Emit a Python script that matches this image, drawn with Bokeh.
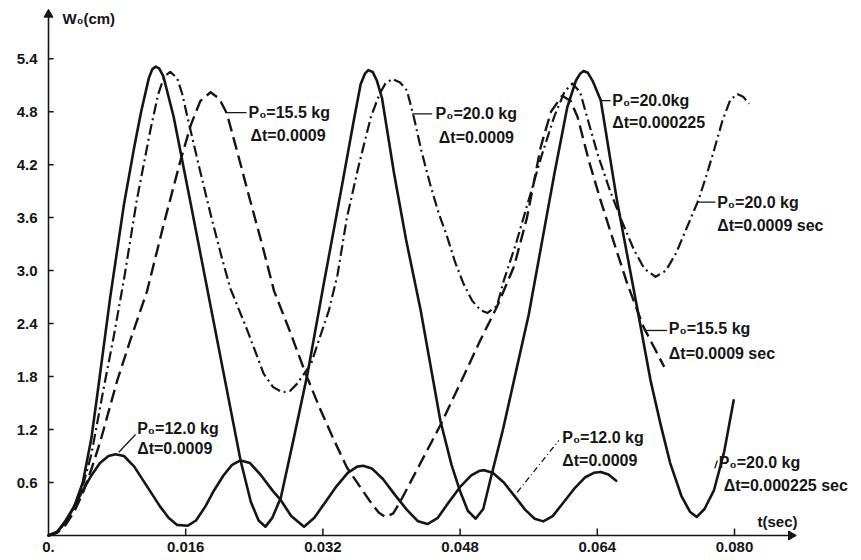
import numpy as np
from bokeh.plotting import figure
from bokeh.models import Label, FixedTicker, Range1d
from bokeh.embed import file_html
from bokeh.resources import INLINE

# ---------------- data (t in ms, W0 in cm) ----------------
# P0 = 12.0 kg, dt = 0.0009 (solid, small oscillation)
a_t_ms = [0, 1, 2, 3, 4, 5, 6, 7, 7.8, 8.8, 10, 11, 12, 13, 14, 15, 16.2, 17.2, 18.3, 19.3,
          20.4, 21.4, 22.4, 23.5, 24.8, 26.2, 27.1, 28.3, 29.8, 31, 32.3, 33.6, 34.9, 36, 36.7,
          37.7, 39, 40.4, 41.8, 43.1, 44.2, 45.4, 46.7, 48, 49.3, 50.2, 50.8, 51.8, 53.1, 54.4,
          55.6, 56.7, 57.7, 58.8, 60.1, 61.4, 62.6, 63.6, 64.4, 65.3, 66.2]
a_w = [0, 0.04, 0.17, 0.33, 0.51, 0.68, 0.82, 0.9, 0.92, 0.9, 0.78, 0.63, 0.48, 0.33, 0.2, 0.12,
       0.11, 0.17, 0.33, 0.51, 0.68, 0.8, 0.85, 0.82, 0.68, 0.5, 0.4, 0.22, 0.10, 0.2, 0.38, 0.56,
       0.71, 0.78, 0.79, 0.76, 0.64, 0.46, 0.29, 0.16, 0.13, 0.2, 0.38, 0.55, 0.68, 0.73, 0.74,
       0.71, 0.6, 0.44, 0.29, 0.19, 0.16, 0.22, 0.38, 0.54, 0.66, 0.71, 0.72, 0.69, 0.62]

# P0 = 20.0 kg, dt = 0.000225 (solid, large)
b_t_ms = [0, 1, 2, 3, 4, 5, 5.7, 7.2, 8.8, 10.0, 10.8, 11.7, 12.1, 12.5, 12.9, 13.4, 14.6, 16.5,
          18.5, 20.4, 22.4, 23.6, 24.5, 25.3, 26.1, 27.1, 28.6, 30.2, 32.1, 34.2, 35.6, 36.4, 36.9,
          37.3, 37.8, 38.3, 38.9, 40.3, 41.7, 43.4, 45.7, 47.0, 48.0, 48.9, 49.8, 50.7, 51.5, 53.0,
          54.5, 56.0, 57.5, 59.0, 60.5, 61.5, 62.0, 62.4, 62.9, 63.5, 64.4, 66.3, 68.7, 70.2, 71.4,
          72.5, 73.8, 74.8, 75.6, 76.5, 77.6, 78.8, 79.9]
b_w = [0, 0.04, 0.15, 0.33, 0.6, 1.1, 1.6, 2.7, 3.75, 4.4, 4.8, 5.18, 5.28, 5.31, 5.29, 5.2,
       4.74, 3.8, 2.8, 1.85, 0.85, 0.38, 0.17, 0.10, 0.2, 0.43, 1.1, 1.83, 2.85, 3.95, 4.7, 5.11,
       5.23, 5.27, 5.25, 5.15, 4.95, 4.1, 3.35, 2.55, 1.3, 0.8, 0.5, 0.28, 0.19, 0.3, 0.62, 1.2,
       1.85, 2.5, 3.3, 4.1, 4.85, 5.15, 5.23, 5.26, 5.24, 5.14, 4.93, 3.79, 2.55, 1.76, 1.25, 0.82,
       0.45, 0.27, 0.21, 0.3, 0.51, 0.95, 1.53]

# P0 = 20.0 kg, dt = 0.0009 (dash-dot)
c_t_ms = [0, 1, 2, 3, 4, 5, 6.4, 7.6, 8.8, 10.3, 11.9, 12.8, 13.5, 14.2, 15.0, 15.6, 16.2, 17.5,
          19.0, 20.2, 21.2, 23.2, 25.1, 26.2, 27.3, 28.2, 29.0, 30.6, 32.7, 33.7, 34.8, 36.2, 37.6,
          38.6, 39.3, 40.1, 41.0, 41.8, 42.6, 43.5, 44.5, 45.5, 46.5, 47.4, 48.4, 49.4, 50.4, 51.2,
          52.3, 53.1, 54.5, 56.0, 57.5, 59.0, 60.2, 61.1, 62.0, 62.8, 64.1, 65.5, 66.9, 68.3, 69.5,
          70.8, 72.0, 73.2, 74.5, 75.8, 76.8, 77.6, 78.6, 79.5, 80.3, 81.0, 81.7]
c_w = [0, 0.04, 0.15, 0.32, 0.56, 0.92, 1.65, 2.25, 2.9, 3.8, 4.6, 5.0, 5.2, 5.25, 5.18, 5.0,
       4.74, 4.2, 3.6, 3.15, 2.8, 2.32, 1.83, 1.68, 1.62, 1.64, 1.72, 1.94, 2.55, 2.95, 3.6, 4.2,
       4.74, 5.0, 5.12, 5.17, 5.13, 5.04, 4.74, 4.35, 3.98, 3.65, 3.38, 3.1, 2.85, 2.66, 2.55, 2.52,
       2.6, 2.89, 3.3, 3.8, 4.3, 4.75, 5.03, 5.12, 5.02, 4.74, 4.3, 3.9, 3.55, 3.23, 3.02, 2.93, 3.0,
       3.2, 3.5, 3.8, 4.1, 4.36, 4.7, 4.93, 5.0, 4.97, 4.89]

# P0 = 15.5 kg, dt = 0.0009 (dashed)
d_t_ms = [0, 1, 2, 3, 4, 5, 6, 7, 8, 9.5, 11.5, 13.5, 15.4, 16.6, 17.7, 18.9, 19.9, 20.8, 22.0,
          23.5, 24.9, 26.3, 28.2, 30.0, 31.6, 33.2, 34.8, 36.2, 37.4, 38.5, 39.3, 40.2, 41.0, 43.0,
          45.7, 48.2, 50.3, 52.3, 54.3, 55.8, 57.4, 58.6, 59.9, 60.9, 61.7, 63.0, 64.4, 66.0, 67.5,
          69.4, 71.8]
d_w = [0, 0.03, 0.12, 0.27, 0.48, 0.75, 1.05, 1.4, 1.75, 2.2, 2.77, 3.55, 4.25, 4.65, 4.92, 5.02,
       4.95, 4.78, 4.35, 3.8, 3.3, 2.77, 2.3, 1.83, 1.45, 1.1, 0.77, 0.57, 0.4, 0.26, 0.21, 0.25,
       0.38, 0.75, 1.25, 1.76, 2.2, 2.59, 3.05, 3.6, 4.4, 4.8, 4.98, 4.92, 4.74, 4.25, 3.79, 3.3,
       2.85, 2.36, 1.91]

x_ticks = [0, 0.016, 0.032, 0.048, 0.064, 0.080]
x_tick_labels = ["0.", "0.016", "0.032", "0.048", "0.064", "0.080"]
y_ticks = [0.6, 1.2, 1.8, 2.4, 3.0, 3.6, 4.2, 4.8, 5.4]
y_tick_labels = ["0.6", "1.2", "1.8", "2.4", "3.0", "3.6", "4.2", "4.8", "5.4"]

# annotation texts: (text, t [s], W [cm])
annotations = [
    ("P\u2080=15.5 kg", 0.02332, 4.794), ("\u0394t=0.0009", 0.02356, 4.53),
    ("P\u2080=20.0 kg", 0.04513, 4.776), ("\u0394t=0.0009", 0.04552, 4.511),
    ("P\u2080=20.0kg", 0.06574, 4.926), ("\u0394t=0.000225", 0.06574, 4.681),
    ("P\u2080=20.0 kg", 0.07798, 3.775), ("\u0394t=0.0009 sec", 0.07798, 3.511),
    ("P\u2080=15.5 kg", 0.07234, 2.341), ("\u0394t=0.0009 sec", 0.07234, 2.058),
    ("P\u2080=12.0 kg", 0.01034, 1.208), ("\u0394t=0.0009", 0.01034, 0.982),
    ("P\u2080=12.0 kg", 0.05991, 1.113), ("\u0394t=0.0009", 0.05991, 0.849),
    ("P\u2080=20.0 kg", 0.07817, 0.830), ("\u0394t=0.000225 sec", 0.07875, 0.566),
]
# leader lines: (t0, w0, t1, w1, dash)
leaders = [
    (0.02064, 4.79, 0.02309, 4.79, "solid"),
    (0.04241, 4.776, 0.04475, 4.776, "solid"),
    (0.06437, 4.926, 0.06554, 4.926, "solid"),
    (0.07584, 3.775, 0.07778, 3.775, "solid"),
    (0.06942, 2.322, 0.07215, 2.322, "solid"),
    (0.00820, 0.943, 0.01015, 1.144, "solid"),
    (0.05466, 0.490, 0.05951, 1.076, "6 3 1 3"),
    (0.07770, 0.760, 0.07800, 0.850, "solid"),
]

# axis extents (arrow tips) and tick-mark lengths
x_axis_end = 0.0866
y_axis_end = 5.90
x_tick_len = 0.08      # in W units
y_tick_len = 0.0006    # in t units

FONT = "Liberation Sans"
INK = "#151515"

p = figure(width=861, height=560, output_backend="svg", toolbar_location=None,
           x_range=Range1d(-0.0007, 0.09481), y_range=Range1d(-0.068, 6.059),
           min_border_left=42, min_border_right=0, min_border_top=0, min_border_bottom=19)
p.outline_line_color = None
p.grid.visible = False
p.background_fill_color = "white"
p.border_fill_color = "white"

for ax, ticks, labels in ((p.xaxis[0], x_ticks, x_tick_labels), (p.yaxis[0], y_ticks, y_tick_labels)):
    ax.ticker = FixedTicker(ticks=ticks)
    ax.major_label_overrides = dict(zip(ticks, labels))
    ax.axis_line_color = None
    ax.major_tick_line_color = None
    ax.minor_tick_line_color = None
    ax.major_tick_in = 0
    ax.major_tick_out = 0
    ax.major_label_text_font = FONT
    ax.major_label_text_font_style = "bold"
    ax.major_label_text_font_size = "15px"
    ax.major_label_text_color = INK
p.xaxis.major_label_standoff = 0
p.yaxis.major_label_standoff = 5

# axis lines, arrow heads and tick marks
p.line([0, x_axis_end], [0, 0], line_color=INK, line_width=1.6)
p.line([0, 0], [0, y_axis_end], line_color=INK, line_width=1.6)
p.scatter([x_axis_end], [0], marker="triangle", angle=-np.pi / 2, size=9,
          fill_color=INK, line_color=INK)
p.scatter([0], [y_axis_end], marker="triangle", size=9, fill_color=INK, line_color=INK)
xt = np.array(x_ticks[1:])
p.segment(x0=xt, y0=np.zeros_like(xt), x1=xt, y1=np.full_like(xt, x_tick_len),
          line_color=INK, line_width=1.5)
yt = np.array(y_ticks)
p.segment(x0=np.zeros_like(yt), y0=yt, x1=np.full_like(yt, y_tick_len), y1=yt,
          line_color=INK, line_width=1.5)

def sec(ms):
    return np.array(ms) / 1000.0

p.line(sec(a_t_ms), a_w, line_color=INK, line_width=2.6, line_join="round", line_cap="round")
p.line(sec(b_t_ms), b_w, line_color=INK, line_width=2.6, line_join="round", line_cap="round")
p.line(sec(c_t_ms), c_w, line_color=INK, line_width=2.2, line_join="round", line_dash="11 4 2 4")
p.line(sec(d_t_ms), d_w, line_color=INK, line_width=2.4, line_join="round", line_dash="13 6")

for t0, w0, t1, w1, dash in leaders:
    p.line([t0, t1], [w0, w1], line_color=INK, line_width=1.3, line_dash=dash)

for txt, tx, wy in annotations:
    p.add_layout(Label(x=tx, y=wy, text=txt, text_font=FONT, text_font_style="bold",
                       text_font_size="16px", text_color=INK, text_baseline="middle",
                       text_align="left"))

p.add_layout(Label(x=0.00163, y=5.855, text="W\u2080(cm)", text_font=FONT, text_font_style="bold",
                   text_font_size="15px", text_color=INK, text_baseline="middle"))
p.add_layout(Label(x=0.08268, y=0.159, text="t(sec)", text_font=FONT, text_font_style="bold",
                   text_font_size="15px", text_color=INK, text_baseline="middle"))

open("out.html", "w").write(file_html(p, INLINE))
